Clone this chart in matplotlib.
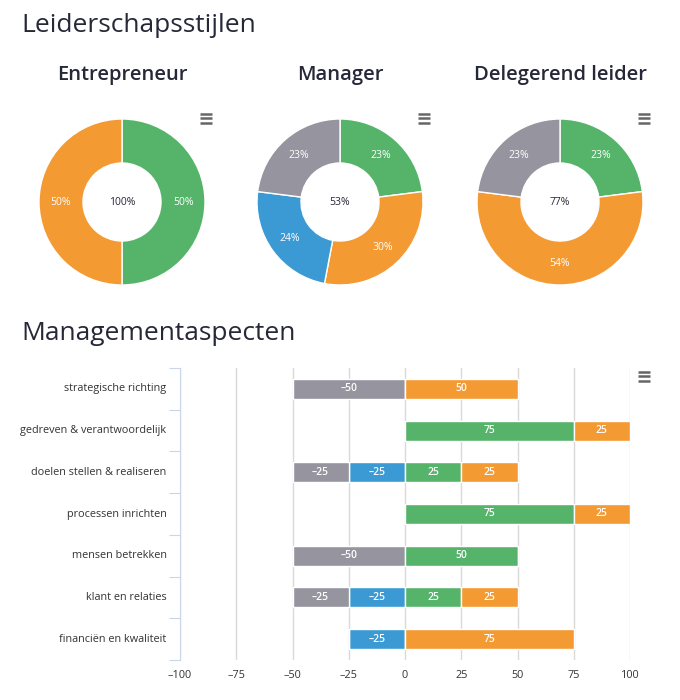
import matplotlib
matplotlib.use("Agg")
import matplotlib.pyplot as plt
import numpy as np
from matplotlib.lines import Line2D

plt.rcParams['font.family'] = ['Open Sans', 'DejaVu Sans']

# ---------------- data ----------------
donut_titles = ["Entrepreneur", "Manager", "Delegerend leider"]
donut_centers = ["100%", "53%", "77%"]
entrepreneur_vals = [50, 50]
entrepreneur_cols = ["green", "orange"]
manager_vals = [23, 30, 24, 23]
manager_cols = ["green", "orange", "blue", "grey"]
delegerend_vals = [23, 54, 23]
delegerend_cols = ["green", "orange", "grey"]

categories = ["strategische richting", "gedreven & verantwoordelijk",
              "doelen stellen & realiseren", "processen inrichten",
              "mensen betrekken", "klant en relaties", "financiën en kwaliteit"]
grey_vals = [-50, 0, -25, 0, -50, -25, 0]
blue_vals = [0, 0, -25, 0, 0, -25, -25]
green_vals = [0, 75, 25, 75, 50, 25, 0]
orange_vals = [50, 25, 25, 25, 0, 25, 75]
x_ticks = [-100, -75, -50, -25, 0, 25, 50, 75, 100]

COL = {"green": "#55b46a", "orange": "#f39a33", "blue": "#3b9ad4", "grey": "#96959f"}
TXT = "#262838"

W, H = 680, 700
fig = plt.figure(figsize=(W / 100, H / 100), dpi=100)

def fx(px):
    return px / W

def fy(py):
    return 1 - py / H

# titles
fig.text(fx(21), fy(25), "Leiderschapsstijlen", fontsize=19, color=TXT, va='center', ha='left',
         fontweight='medium')
fig.text(fx(21), fy(333), "Managementaspecten", fontsize=19, color=TXT, va='center', ha='left',
         fontweight='medium')

def hamburger(cx, cy):
    for dy in (-4.5, 0, 4.5):
        fig.add_artist(Line2D([fx(cx - 6), fx(cx + 6)], [fy(cy + dy), fy(cy + dy)],
                              color="#666666", lw=1.8, solid_capstyle='butt'))

# ---------------- donuts ----------------
donut_data = [(entrepreneur_vals, entrepreneur_cols),
              (manager_vals, manager_cols),
              (delegerend_vals, delegerend_cols)]
centers_x = [122, 340, 560]
cy = 202
scale = 83  # px per unit radius
half = 100
for i, (vals, cols) in enumerate(donut_data):
    cx = centers_x[i]
    ax = fig.add_axes([fx(cx - half), fy(cy + half), 2 * half / W, 2 * half / H])
    ax.set_aspect('equal')
    ax.axis('off')
    ax.pie(vals, colors=[COL[c] for c in cols], startangle=90, counterclock=False,
           radius=1.0, wedgeprops=dict(width=0.53, edgecolor='white', linewidth=1))
    ax.set_xlim(-half / scale, half / scale)
    ax.set_ylim(-half / scale, half / scale)
    total = sum(vals)
    acc = 0
    for v in vals:
        mid = (acc + v / 2) / total * 2 * np.pi
        acc += v
        r = 0.745
        ax.text(r * np.sin(mid), r * np.cos(mid), f"{v}%", color='white',
                fontsize=7.5, ha='center', va='center')
    ax.text(0, 0, donut_centers[i], color=TXT, fontsize=7.5, ha='center', va='center')
    fig.text(fx(cx), fy(75), donut_titles[i], fontsize=14.5, color=TXT,
             ha='center', va='center', fontweight='semibold')
    hamburger(cx + 84, 118)

# ---------------- bar chart ----------------
left, right, top, bottom = 180, 630, 368, 660
ax = fig.add_axes([fx(left), fy(bottom), (right - left) / W, (bottom - top) / H])
n = len(categories)
y = np.arange(n)
bh = 0.48

ax.set_xlim(-100, 100)
ax.set_ylim(n - 0.5, -0.5)
for t in x_ticks:
    ax.axvline(t, color="#d9d9d9", lw=1, zorder=0)

def draw(vals, start, col):
    ax.barh(y, vals, left=start, height=bh, color=COL[col],
            edgecolor='white', linewidth=1, zorder=2)
    for yi, v, s in zip(y, vals, start):
        if v != 0:
            ax.text(s + v / 2, yi, f"{v}".replace('-', '\u2013'), color='white', fontsize=7.5,
                    ha='center', va='center', fontweight='semibold', zorder=3)

zeros = np.zeros(n)
blue = np.array(blue_vals)
grey = np.array(grey_vals)
green = np.array(green_vals)
orange = np.array(orange_vals)
draw(blue, zeros, "blue")
draw(grey, blue, "grey")
draw(green, zeros, "green")
draw(orange, green, "orange")

for s in ['top', 'right', 'bottom']:
    ax.spines[s].set_visible(False)
ax.spines['left'].set_color("#ccd6eb")
ax.set_yticks(np.arange(n + 1) - 0.5, minor=False)
ax.set_yticklabels([])
ax.tick_params(axis='y', length=8, color="#ccd6eb", direction='out')
for yi, c in zip(y, categories):
    ax.text(-106, yi, c, ha='right', va='center', fontsize=7.8, color="#333333")
ax.set_xticks(x_ticks)
ax.set_xticklabels([f"{t}".replace('-', '\u2013') for t in x_ticks], fontsize=7.8, color="#333333")
ax.tick_params(axis='x', length=0, pad=7)
hamburger(644, 376)

fig.savefig("out.png", dpi=100, facecolor='white')
